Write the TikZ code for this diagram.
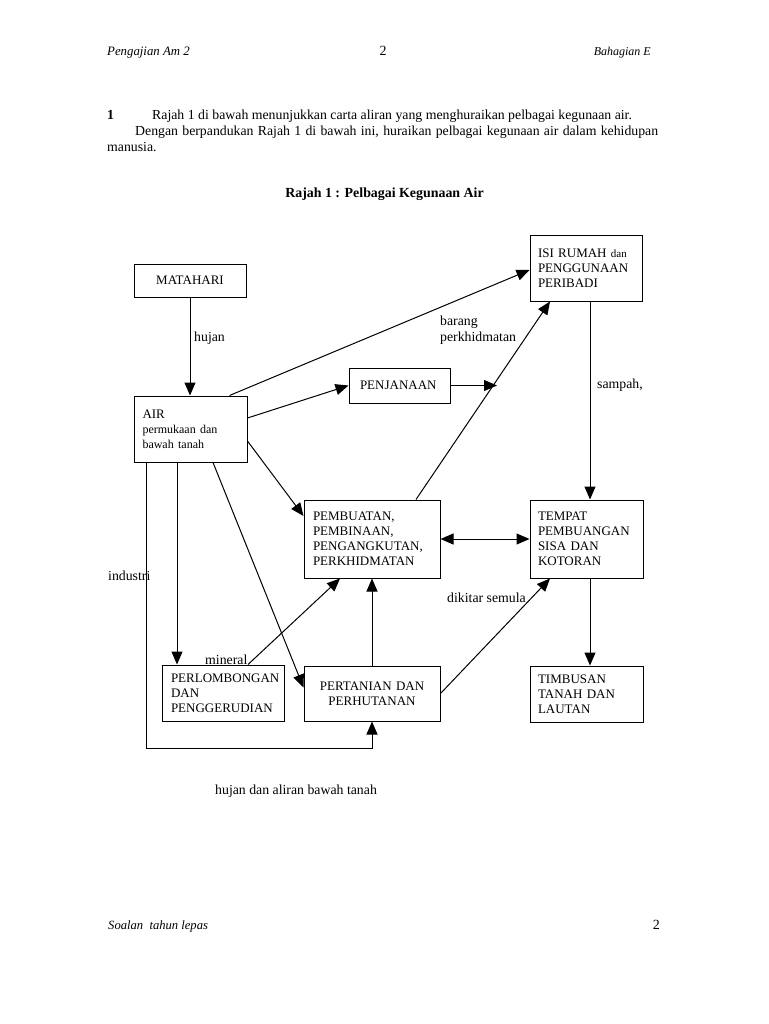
\documentclass[tikz,border=0pt]{standalone}
\usepackage{fontspec}
\setmainfont{Liberation Serif}
\usetikzlibrary{arrows.meta}
\begin{document}
\begin{tikzpicture}[x=1pt,y=-1pt,
  box/.style={draw,line width=1pt,inner sep=0pt,font=\fontsize{13}{15}\selectfont},
  lbl/.style={inner sep=0pt,anchor=base west,font=\fontsize{13.8}{15}\selectfont},
  arr/.style={line width=1pt,-{Triangle[length=13pt,width=11pt]}},
  darr/.style={line width=1pt,{Triangle[length=13pt,width=11pt]}-{Triangle[length=13pt,width=11pt]}},
  plain/.style={line width=1pt}]
\useasboundingbox[fill=white] (0,0) rectangle (768,1024);
% header
\node[lbl,font=\fontsize{12.8}{14}\selectfont\itshape] (h1) at (107,56) {Pengajian Am 2};
\node[inner sep=0pt,anchor=base,font=\fontsize{14}{15}\selectfont] (h2) at (383,56) {2};
\node[inner sep=0pt,anchor=base east,font=\fontsize{12}{14}\selectfont\itshape] (h3) at (651,56) {Bahagian E};
% question
\node[lbl,font=\fontsize{13.8}{16}\selectfont\bfseries] (q0) at (107,120) {1};
\node[lbl,font=\fontsize{13.8}{16}\selectfont] (q1) at (152,120) {Rajah 1 di bawah menunjukkan carta aliran yang menghuraikan pelbagai kegunaan air.};
\node[lbl,font=\fontsize{13.8}{16}\selectfont] (q2) at (135,136) {\makebox[523pt][s]{Dengan berpandukan Rajah 1 di bawah ini, huraikan pelbagai kegunaan air dalam kehidupan}};
\node[lbl,font=\fontsize{13.8}{16}\selectfont] (q3) at (107,152) {manusia.};
\node[inner sep=0pt,anchor=base,font=\fontsize{13.9}{16}\selectfont\bfseries] (title) at (384.5,198) {Rajah 1 : Pelbagai Kegunaan Air};
% boxes
\node[box,minimum width=112pt,minimum height=33pt] (mat) at (190,280.5) {MATAHARI};
\node[box,minimum width=112pt,minimum height=66pt,text width=96pt,align=left] (isi) at (586,268) {ISI RUMAH {\fontsize{11}{15}\selectfont dan}\\PENGGUNAAN\\PERIBADI};
\node[box,minimum width=113pt,minimum height=66pt,text width=96pt,align=left] (air) at (190.5,429) {AIR\\{\fontsize{12}{14}\selectfont permukaan dan}\\{\fontsize{12}{14}\selectfont bawah tanah}};
\node[box,minimum width=101pt,minimum height=35pt,text width=79pt,align=left] (pen) at (399.5,385.5) {PENJANAAN};
\node[box,minimum width=136pt,minimum height=78pt,text width=118pt,align=left] (pemb) at (372,539) {PEMBUATAN,\\PEMBINAAN,\\PENGANGKUTAN,\\PERKHIDMATAN};
\node[box,minimum width=113pt,minimum height=78pt,text width=97pt,align=left] (temp) at (586.5,539) {TEMPAT\\PEMBUANGAN\\SISA DAN\\KOTORAN};
\node[box,minimum width=122pt,minimum height=56pt,text width=104pt,align=left] (perl) at (223,693) {PERLOMBONGAN\\DAN\\PENGGERUDIAN};
\node[box,minimum width=136pt,minimum height=55pt,text width=120pt,align=center] (pert) at (372,693.5) {PERTANIAN DAN\\PERHUTANAN};
\node[box,minimum width=113pt,minimum height=56pt,text width=97pt,align=left] (timb) at (586.5,694) {TIMBUSAN\\TANAH DAN\\LAUTAN};
% labels
\node[lbl] (l1) at (194,341) {hujan};
\node[lbl] (l2) at (440,325) {barang};
\node[lbl] (l3) at (440,341) {perkhidmatan};
\node[lbl] (l4) at (597,388) {sampah,};
\node[lbl] (l5) at (108,580) {industri};
\node[lbl] (l6) at (447,602) {dikitar semula};
\node[lbl] (l7) at (205,664) {mineral};
\node[lbl] (l8) at (215,794) {hujan dan aliran bawah tanah};
% footer
\node[lbl,font=\fontsize{12.6}{14}\selectfont\itshape] (f1) at (108,929) {Soalan\ \ tahun lepas};
\node[inner sep=0pt,anchor=base east,font=\fontsize{14}{15}\selectfont] (f2) at (660,929) {2};
% connectors
\coordinate (penend) at (497,385.5);
\draw[arr] (mat.south) -- (mat.south |- air.north);
\draw[arr] ([xshift=39pt]air.north) -- ([yshift=-2pt]isi.west);
\draw[arr] ([yshift=11pt]air.east) -- (pen.west);
\draw[arr] (pen.east) -- (penend);
\draw[arr] ([xshift=44pt]pemb.north) -- ([xshift=-36pt]isi.south);
\draw[arr] ([xshift=4pt]isi.south) -- ([xshift=3.5pt]temp.north);
\draw[darr] (pemb.east) -- (temp.west);
\draw[arr] ([yshift=-12pt]air.east) -- ([yshift=23pt]pemb.west);
\draw[arr] ([xshift=-13.5pt]air.south) -- ([xshift=-46pt]perl.north);
\draw[arr] ([xshift=22.5pt]air.south) -- ([yshift=6pt]pert.west);
\draw[arr] ([xshift=-44.5pt]air.south) |- ([yshift=-27pt]pert.south) -- (pert.south);
\draw[arr] ([xshift=25pt]perl.north) -- ([xshift=-32pt]pemb.south);
\draw[arr] (pert.north) -- (pemb.south);
\draw[arr] (pert.east) -- ([xshift=-36.5pt]temp.south);
\draw[arr] ([xshift=3.5pt]temp.south) -- ([xshift=3.5pt]timb.north);
\end{tikzpicture}
\end{document}
